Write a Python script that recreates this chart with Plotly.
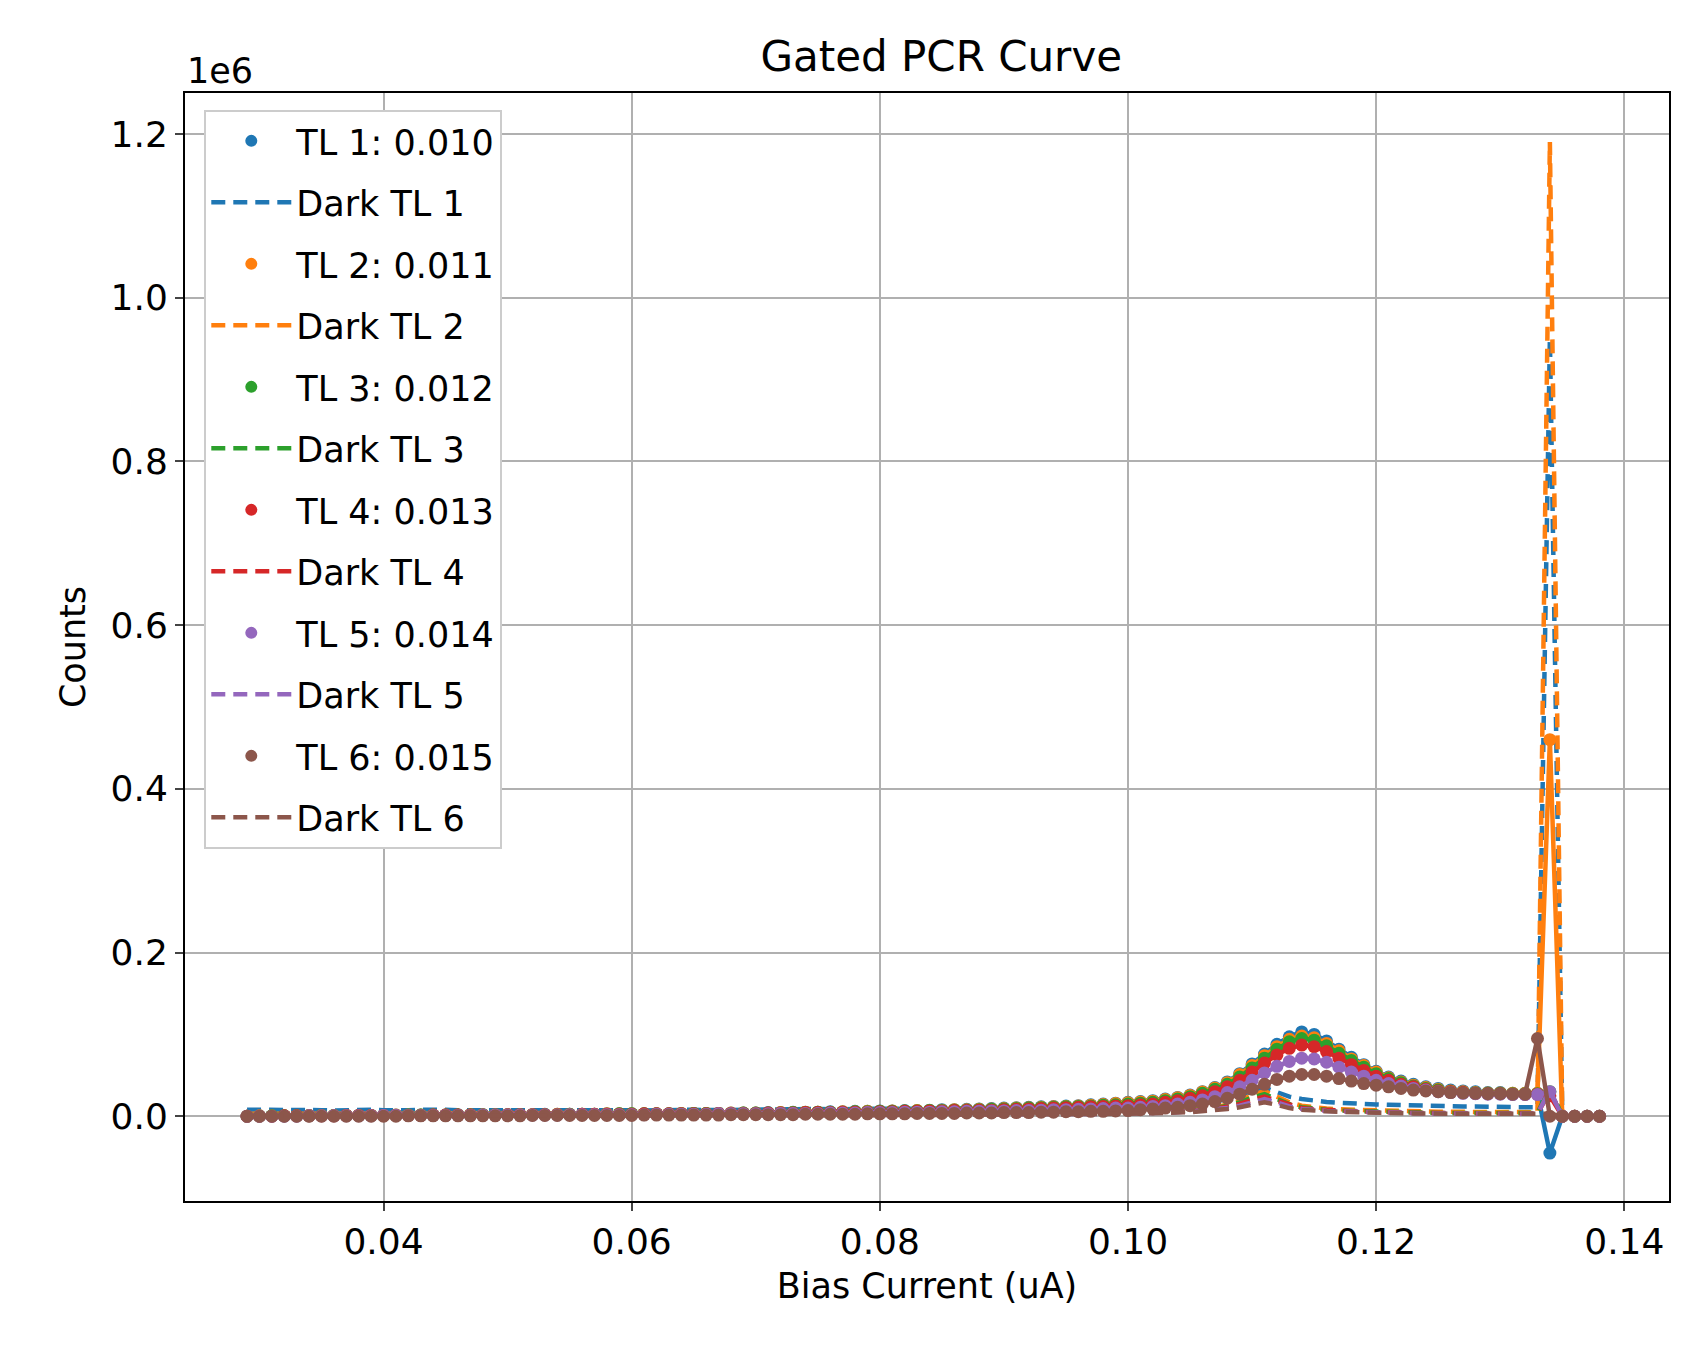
import plotly.graph_objects as go

# bias current (uA)
bias = [0.029, 0.030, 0.031, 0.032, 0.033, 0.034, 0.035, 0.036, 0.037, 0.038, 0.039,
        0.040, 0.041, 0.042, 0.043, 0.044, 0.045, 0.046, 0.047, 0.048, 0.049,
        0.050, 0.051, 0.052, 0.053, 0.054, 0.055, 0.056, 0.057, 0.058, 0.059,
        0.060, 0.061, 0.062, 0.063, 0.064, 0.065, 0.066, 0.067, 0.068, 0.069,
        0.070, 0.071, 0.072, 0.073, 0.074, 0.075, 0.076, 0.077, 0.078, 0.079,
        0.080, 0.081, 0.082, 0.083, 0.084, 0.085, 0.086, 0.087, 0.088, 0.089,
        0.090, 0.091, 0.092, 0.093, 0.094, 0.095, 0.096, 0.097, 0.098, 0.099,
        0.100, 0.101, 0.102, 0.103, 0.104, 0.105, 0.106, 0.107, 0.108, 0.109,
        0.110, 0.111, 0.112, 0.113, 0.114, 0.115, 0.116, 0.117, 0.118, 0.119,
        0.120, 0.121, 0.122, 0.123, 0.124, 0.125, 0.126, 0.127, 0.128, 0.129,
        0.130, 0.131, 0.132, 0.133, 0.134, 0.135, 0.136, 0.137, 0.138]

# counts in thousands
tl1 = [0, .5, .5, .5, 1, 1, 1, 1, 1, 1, 1, 1.5, 1.5, 1.5, 1.5, 1.5, 1.5, 2, 2, 2, 2,
       2, 2, 2, 2.5, 2.5, 2.5, 2.5, 2.5, 3, 3, 3, 3, 3, 3, 3.5, 3.5, 3.5, 3.5, 4, 4,
       4, 4.5, 4.5, 5, 5, 5, 5.5, 5.5, 6, 6, 6.5, 6.5, 7, 7, 7.5, 8, 8, 8.5, 9, 9.5,
       10, 10.5, 11, 11.5, 12, 12.5, 13, 14, 15, 16,
       17, 18, 19, 21, 23, 26, 30, 35, 42, 52,
       64, 76, 88, 97, 103, 100, 92, 82, 72, 63,
       55, 48, 43, 39, 36, 34, 32, 31, 30, 29,
       29, 28, 28, 28, -45, 0, 0, 0, 0]
tl2 = [0, .5, .5, .5, .5, 1, 1, 1, 1, 1, 1, 1, 1.5, 1.5, 1.5, 1.5, 1.5, 1.5, 2, 2, 2,
       2, 2, 2, 2, 2.5, 2.5, 2.5, 2.5, 3, 3, 3, 3, 3, 3, 3.5, 3.5, 3.5, 3.5, 4, 4,
       4, 4, 4.5, 4.5, 5, 5, 5, 5.5, 5.5, 6, 6, 6.5, 6.5, 7, 7, 7.5, 8, 8, 8.5, 9,
       9.5, 10, 10.5, 11, 11.5, 12, 12.5, 13.5, 14.5, 15.5,
       16.5, 17.5, 18.5, 20.5, 22.5, 25.5, 29.5, 34.5, 41, 51,
       62, 74, 85, 94, 98, 96, 89, 80, 70, 62,
       54, 47, 42, 38, 35, 33, 31, 30, 29, 28.5,
       28.5, 28, 28, 28, 460, 0, 0, 0, 0]
tl3 = [0, 0, .5, .5, .5, .5, 1, 1, 1, 1, 1, 1, 1, 1.5, 1.5, 1.5, 1.5, 1.5, 1.5, 2, 2,
       2, 2, 2, 2, 2, 2.5, 2.5, 2.5, 2.5, 3, 3, 3, 3, 3, 3, 3.5, 3.5, 3.5, 3.5, 4,
       4, 4, 4, 4.5, 4.5, 5, 5, 5, 5.5, 5.5, 6, 6, 6.5, 6.5, 7, 7, 7.5, 7.5, 8, 8.5,
       9, 9.5, 10, 10.5, 11, 11.5, 12, 12.5, 13.5, 14,
       15, 16, 17, 19, 21, 24, 28, 33, 39, 48,
       59, 71, 82, 91, 95, 93, 86, 77, 68, 60,
       52, 46, 41, 37, 34, 32, 30, 29, 28.5, 28,
       28, 27.5, 27.5, 27.5, 30, 0, 0, 0, 0]
tl4 = [0, 0, 0, .5, .5, .5, .5, .5, 1, 1, 1, 1, 1, 1, 1, 1.5, 1.5, 1.5, 1.5, 1.5, 1.5,
       2, 2, 2, 2, 2, 2, 2.5, 2.5, 2.5, 2.5, 2.5, 3, 3, 3, 3, 3, 3, 3.5, 3.5, 3.5,
       3.5, 4, 4, 4, 4.5, 4.5, 4.5, 5, 5, 5, 5.5, 5.5, 6, 6, 6.5, 6.5, 7, 7, 7.5, 7.5,
       8, 8.5, 9, 9.5, 10, 10.5, 11, 11.5, 12, 12.5,
       13, 14, 15, 17, 19, 22, 25, 30, 36, 44,
       54, 65, 75, 83, 87, 85, 79, 71, 63, 56,
       49, 44, 39, 36, 33, 31, 30, 29, 28, 27.5,
       27.5, 27, 27, 27, 25, 0, 0, 0, 0]
tl5 = [0, 0, 0, 0, 0, .5, .5, .5, .5, .5, .5, 1, 1, 1, 1, 1, 1, 1, 1, 1.5, 1.5,
       1.5, 1.5, 1.5, 1.5, 1.5, 2, 2, 2, 2, 2, 2, 2, 2.5, 2.5, 2.5, 2.5, 2.5, 3, 3, 3,
       3, 3, 3.5, 3.5, 3.5, 3.5, 4, 4, 4, 4.5, 4.5, 4.5, 5, 5, 5, 5.5, 5.5, 6, 6, 6.5,
       6.5, 7, 7, 7.5, 8, 8, 8.5, 9, 9.5, 10,
       10, 11, 12, 13, 15, 17, 20, 24, 29, 36,
       44, 53, 61, 67, 71, 70, 66, 60, 54, 49,
       44, 40, 37, 34, 32, 30, 29, 28, 27.5, 27,
       27, 26.5, 26.5, 26.5, 30, 0, 0, 0, 0]
tl6 = [0, 0, 0, 0, 0, 0, 0, 0, 0, 0, 0, 0, 0, .5, .5, .5, .5, .5, .5, .5, .5,
       .5, .5, 1, 1, 1, 1, 1, 1, 1, 1, 1, 1.5, 1.5, 1.5, 1.5, 1.5, 1.5, 1.5, 2, 2,
       2, 2, 2, 2, 2.5, 2.5, 2.5, 2.5, 2.5, 3, 3, 3, 3, 3.5, 3.5, 3.5, 3.5, 4, 4, 4,
       4.5, 4.5, 4.5, 5, 5, 5.5, 5.5, 6, 6, 6.5,
       7, 8, 9, 10, 11, 13, 15, 18, 22, 27,
       33, 39, 45, 49, 51, 51, 49, 46, 43, 40,
       38, 36, 34, 32, 31, 30, 29, 28.5, 28, 27.5,
       27.5, 27, 27, 95, 0, 0, 0, 0, 0]

dark1 = [8, 8, 7.5, 8, 8.5, 8, 7.5, 7, 7.5, 8, 8, 7.5, 7, 7.5, 8, 8.5, 8, 7.5, 7.5, 8, 8.5,
         8, 7.5, 7.5, 8, 8.5, 8, 7.5, 7.5, 8, 8, 7.5, 7, 7.5, 8, 8.5, 8, 7.5, 7.5, 8, 8.5,
         8, 7.5, 8, 8.5, 9, 8.5, 8, 8.5, 9, 9, 8.5, 8.5, 9, 9.5, 9, 9, 9.5, 10, 9.5, 10,
         10, 10.5, 10, 10.5, 11, 11, 11, 11.5, 11.5, 12,
         12, 12.5, 13, 13.5, 14, 15, 16.5, 18, 21, 25,
         30, 35, 29, 24, 21, 19, 17.5, 16.5, 15.5, 15,
         14.5, 14, 13.5, 13, 12.5, 12.5, 12, 12, 12, 11.5,
         11.5, 11.5, 11, 11, 950, 0, 0, 0, 0]
dark2 = [3, 3, 3, 3, 3, 3, 3, 3, 3, 3, 3, 3, 3, 3, 3, 3, 3, 3, 3, 3, 3,
         3, 3, 3, 3, 3, 3, 3, 3, 3, 3, 3, 3, 3, 3, 3, 3, 3, 3, 3, 3,
         3, 3, 3, 3, 3.5, 3.5, 3.5, 3.5, 3.5, 3.5, 3.5, 3.5, 3.5, 4, 4, 4, 4, 4, 4, 4,
         4, 4.5, 4.5, 4.5, 4.5, 5, 5, 5, 5, 5.5,
         5.5, 6, 6, 6.5, 7, 8, 9.5, 11, 14, 19,
         26, 31, 24, 17, 13, 11, 9.5, 8.5, 8, 7.5,
         7, 6.5, 6.5, 6, 6, 5.5, 5.5, 5.5, 5, 5,
         5, 5, 5, 5, 1190, 0, 0, 0, 0]
dark3 = [1.5, 1.5, 1.5, 1.5, 1.5, 1.5, 1.5, 1.5, 1.5, 1.5, 1.5, 1.5, 1.5, 1.5, 1.5, 1.5, 1.5, 1.5, 1.5, 1.5, 1.5,
         1.5, 1.5, 1.5, 1.5, 1.5, 1.5, 1.5, 1.5, 1.5, 1.5, 1.5, 1.5, 1.5, 1.5, 2, 2, 2, 2, 2, 2,
         2, 2, 2, 2, 2, 2, 2, 2, 2, 2.5, 2.5, 2.5, 2.5, 2.5, 2.5, 2.5, 2.5, 3, 3, 3,
         3, 3, 3, 3.5, 3.5, 3.5, 3.5, 4, 4, 4,
         4.5, 4.5, 5, 5.5, 6, 7, 8, 10, 13, 17,
         23, 27, 21, 15, 11, 9, 8, 7, 6.5, 6,
         5.5, 5, 5, 4.5, 4.5, 4, 4, 4, 4, 4,
         4, 4, 4, 4, 35, 0, 0, 0, 0]
dark4 = [1, 1, 1, 1, 1, 1, 1, 1, 1, 1, 1, 1, 1, 1, 1, 1, 1, 1, 1, 1, 1,
         1, 1, 1, 1, 1, 1, 1, 1, 1, 1, 1.5, 1.5, 1.5, 1.5, 1.5, 1.5, 1.5, 1.5, 1.5, 1.5,
         1.5, 1.5, 1.5, 1.5, 1.5, 2, 2, 2, 2, 2, 2, 2, 2, 2, 2.5, 2.5, 2.5, 2.5, 2.5, 2.5,
         2.5, 3, 3, 3, 3, 3, 3.5, 3.5, 3.5, 3.5,
         4, 4, 4.5, 5, 5.5, 6.5, 7.5, 9, 12, 15,
         20, 24, 19, 14, 10, 8.5, 7.5, 6.5, 6, 5.5,
         5, 4.5, 4.5, 4, 4, 4, 3.5, 3.5, 3.5, 3.5,
         3.5, 3.5, 3.5, 3.5, 30, 0, 0, 0, 0]
dark5 = [.5, .5, .5, .5, .5, .5, .5, .5, .5, .5, .5, .5, .5, .5, .5, .5, .5, .5, .5, .5, .5,
         .5, .5, .5, .5, 1, 1, 1, 1, 1, 1, 1, 1, 1, 1, 1, 1, 1, 1, 1, 1,
         1, 1, 1, 1.5, 1.5, 1.5, 1.5, 1.5, 1.5, 1.5, 1.5, 1.5, 2, 2, 2, 2, 2, 2, 2, 2,
         2, 2.5, 2.5, 2.5, 2.5, 2.5, 3, 3, 3, 3,
         3.5, 3.5, 4, 4.5, 5, 6, 7, 8, 10, 13,
         17, 21, 17, 12, 9, 7.5, 6.5, 6, 5.5, 5,
         4.5, 4, 4, 4, 3.5, 3.5, 3.5, 3.5, 3, 3,
         3, 3, 3, 3, 32, 0, 0, 0, 0]
dark6 = [.5, .5, .5, .5, .5, .5, .5, .5, .5, .5, .5, .5, .5, .5, .5, .5, .5, .5, .5, .5, .5,
         .5, .5, .5, .5, .5, .5, .5, .5, .5, .5, .5, .5, 1, 1, 1, 1, 1, 1, 1, 1,
         1, 1, 1, 1, 1, 1, 1, 1.5, 1.5, 1.5, 1.5, 1.5, 1.5, 1.5, 1.5, 1.5, 2, 2, 2, 2,
         2, 2, 2, 2.5, 2.5, 2.5, 2.5, 2.5, 3, 3,
         3, 3.5, 3.5, 4, 4.5, 5, 6, 7, 9, 11,
         14, 17, 14, 10, 8, 6.5, 6, 5.5, 5, 4.5,
         4, 4, 3.5, 3.5, 3.5, 3, 3, 3, 3, 3,
         3, 3, 3, 3, 3, 0, 0, 0, 0]

labels = ["TL 1: 0.010", "TL 2: 0.011", "TL 3: 0.012", "TL 4: 0.013", "TL 5: 0.014", "TL 6: 0.015"]
light = [tl1, tl2, tl3, tl4, tl5, tl6]
dark = [dark1, dark2, dark3, dark4, dark5, dark6]
colors = ["#1f77b4", "#ff7f0e", "#2ca02c", "#d62728", "#9467bd", "#8c564b"]

fig = go.Figure()
for i in range(6):
    ly = [v * 1000 for v in light[i]]
    dy = [v * 1000 for v in dark[i]]
    fig.add_trace(go.Scatter(x=bias, y=ly, mode="lines+markers", showlegend=False,
                             line=dict(color=colors[i], width=4.5),
                             marker=dict(color=colors[i], size=13)))
    fig.add_trace(go.Scatter(x=[None], y=[None], mode="markers", name=labels[i],
                             legendgroup="l%d" % i,
                             marker=dict(color=colors[i], size=12)))
    fig.add_trace(go.Scatter(x=bias, y=dy, mode="lines", name="Dark TL %d" % (i + 1),
                             legendgroup="d%d" % i,
                             line=dict(color=colors[i], width=4.5, dash="14px,8px")))

yt = [0, 200000, 400000, 600000, 800000, 1000000, 1200000]
fig.update_layout(
    width=1703, height=1361,
    paper_bgcolor="white", plot_bgcolor="white",
    font=dict(family="DejaVu Sans", size=35, color="black"),
    title=dict(text="Gated PCR Curve", x=0.548, xanchor="center", y=0.975, font=dict(size=42)),
    margin=dict(l=177, r=42, t=85, b=168),
    legend=dict(x=0.013, y=0.985, xanchor="left", yanchor="top", bgcolor="white",
                bordercolor="#cccccc", borderwidth=2, font=dict(size=35),
                tracegroupgap=13, itemwidth=80),
    xaxis=dict(range=[0.024, 0.1436], tickvals=[0.04, 0.06, 0.08, 0.10, 0.12, 0.14],
               ticktext=["0.04", "0.06", "0.08", "0.10", "0.12", "0.14"],
               showgrid=True, gridcolor="#b0b0b0", gridwidth=2, zeroline=False,
               showline=True, linecolor="black", linewidth=2, mirror=True,
               ticks="outside", ticklen=8, tickwidth=2, tickfont=dict(size=36),
               title=dict(text="Bias Current (uA)", standoff=12, font=dict(size=35))),
    yaxis=dict(range=[-103500, 1250000], tickvals=yt,
               ticktext=["0.0", "0.2", "0.4", "0.6", "0.8", "1.0", "1.2"],
               showgrid=True, gridcolor="#b0b0b0", gridwidth=2, zeroline=False,
               showline=True, linecolor="black", linewidth=2, mirror=True,
               ticks="outside", ticklen=8, tickwidth=2, tickfont=dict(size=36),
               title=dict(text="Counts", standoff=14, font=dict(size=35))),
    annotations=[dict(text="1e6", xref="paper", yref="paper", x=0, y=1.0,
                      xanchor="left", yanchor="bottom", showarrow=False, font=dict(size=35))],
)
fig.write_html("out.html")
